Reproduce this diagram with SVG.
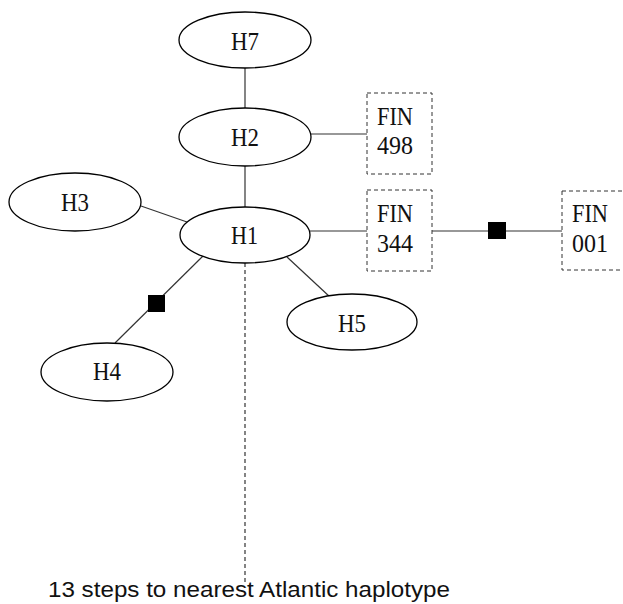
<svg xmlns="http://www.w3.org/2000/svg" width="623" height="604" viewBox="0 0 623 604">
<style>
.n ellipse{fill:#fff;stroke:#000;stroke-width:1.3}
.b rect{fill:#fff;stroke:#333;stroke-width:1;stroke-dasharray:4 3}
.t{font-family:"Liberation Serif","Times New Roman",serif;font-size:25px;fill:#111}
.c line{stroke:#333;stroke-width:1.2}
.sq{fill:#000}
</style>
<rect width="623" height="604" fill="#fff"/>
<g id="connectors" class="c">
<line x1="245" y1="68" x2="245" y2="108"/>
<line x1="245" y1="166" x2="245" y2="207"/>
<line x1="311" y1="134" x2="367" y2="134"/>
<line x1="141" y1="206" x2="187" y2="222"/>
<line x1="203" y1="256" x2="115" y2="343"/>
<line x1="287" y1="257" x2="330" y2="297"/>
<line x1="310" y1="231" x2="367" y2="231"/>
<line x1="432" y1="231" x2="562" y2="231"/>
<line x1="245" y1="263" x2="245" y2="583" stroke-dasharray="4 3"/>
<rect class="sq" x="148" y="295" width="17" height="17"/>
<rect class="sq" x="488" y="222" width="18" height="17"/>
</g>
<g id="H7" class="n"><ellipse cx="245" cy="40" rx="66" ry="28"/><text class="t" x="231" y="50" textLength="28" lengthAdjust="spacingAndGlyphs">H7</text></g>
<g id="H2" class="n"><ellipse cx="245" cy="137" rx="66" ry="29"/><text class="t" x="231" y="146" textLength="28" lengthAdjust="spacingAndGlyphs">H2</text></g>
<g id="H3" class="n"><ellipse cx="75" cy="202" rx="66" ry="29"/><text class="t" x="61" y="211" textLength="28" lengthAdjust="spacingAndGlyphs">H3</text></g>
<g id="H1" class="n"><ellipse cx="245" cy="235" rx="65" ry="28"/><text class="t" x="231" y="244" textLength="27" lengthAdjust="spacingAndGlyphs">H1</text></g>
<g id="H5" class="n"><ellipse cx="352" cy="322" rx="65" ry="28"/><text class="t" x="338" y="332" textLength="28" lengthAdjust="spacingAndGlyphs">H5</text></g>
<g id="H4" class="n"><ellipse cx="107" cy="372" rx="66" ry="29"/><text class="t" x="93" y="380" textLength="28" lengthAdjust="spacingAndGlyphs">H4</text></g>
<g id="FIN498" class="b"><rect x="367" y="93" width="65" height="81"/><text class="t" x="377" y="125" textLength="36" lengthAdjust="spacingAndGlyphs">FIN</text><text class="t" x="377" y="154" textLength="36" lengthAdjust="spacingAndGlyphs">498</text></g>
<g id="FIN344" class="b"><rect x="367" y="190" width="65" height="81"/><text class="t" x="377" y="222" textLength="36" lengthAdjust="spacingAndGlyphs">FIN</text><text class="t" x="377" y="252" textLength="36" lengthAdjust="spacingAndGlyphs">344</text></g>
<g id="FIN001" class="b"><rect x="562" y="191" width="70" height="79"/><text class="t" x="572" y="222" textLength="36" lengthAdjust="spacingAndGlyphs">FIN</text><text class="t" x="572" y="252" textLength="36" lengthAdjust="spacingAndGlyphs">001</text></g>
<text x="48" y="597" font-family="'Liberation Sans',Arial,Helvetica,sans-serif" font-size="22.5" fill="#111" textLength="402" lengthAdjust="spacingAndGlyphs">13 steps to nearest Atlantic haplotype</text>
</svg>
